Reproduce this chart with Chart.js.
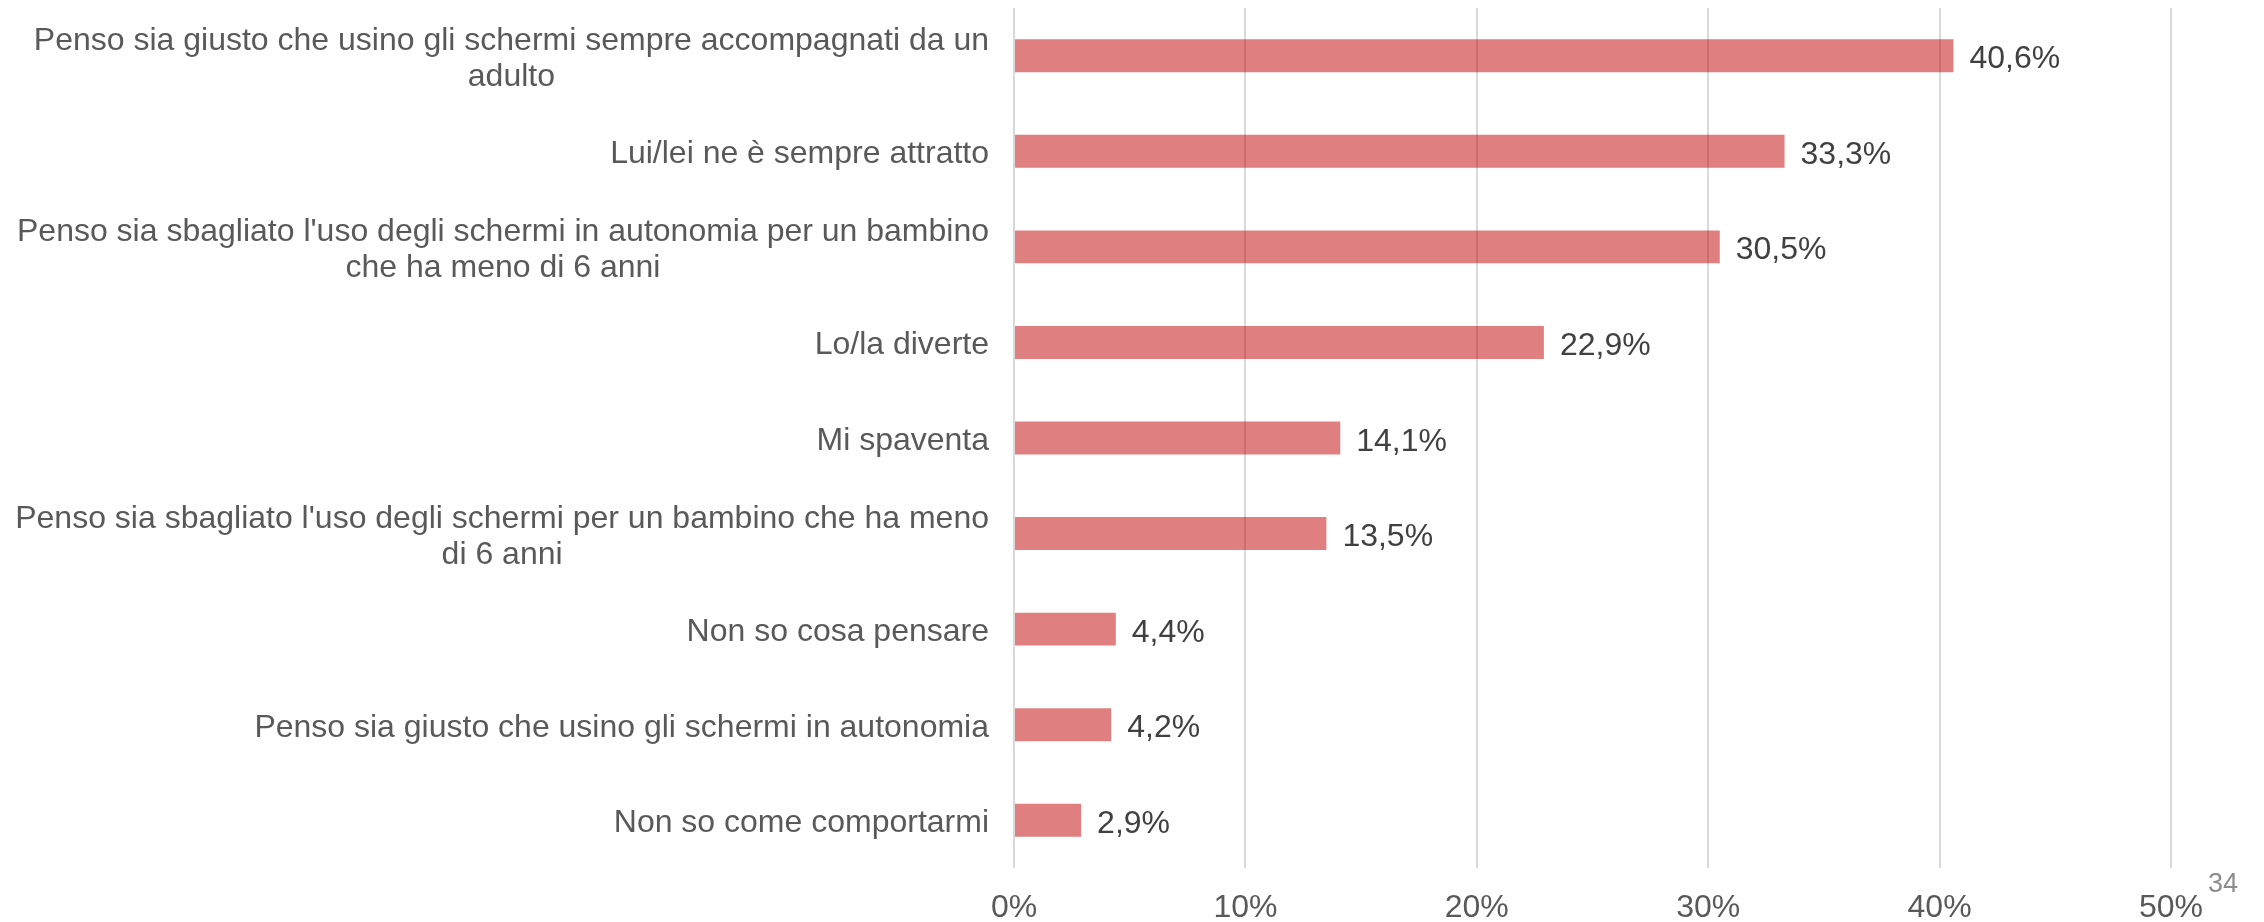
<!DOCTYPE html>
<html>
<head>
<meta charset="utf-8">
<script src="https://cdn.jsdelivr.net/npm/chart.js@4/dist/chart.umd.min.js"></script>
<style>
  html, body { margin: 0; padding: 0; background: #ffffff; }
  #wrap { position: relative; width: 2264px; height: 922px; }
  #pageNum { position: absolute; left: 2208px; top: 868px; font-family: "Liberation Sans", Arial, sans-serif; font-size: 27px; color: #8c8c8c; }
</style>
</head>
<body>
<div id="wrap">
  <canvas id="c" width="2264" height="922"></canvas>
  <div id="pageNum">34</div>
</div>
<script>
const categories = [
  ["Penso sia giusto che usino gli schermi sempre accompagnati da un", "adulto"],
  ["Lui/lei ne è sempre attratto"],
  ["Penso sia sbagliato l'uso degli schermi in autonomia per un bambino", "che ha meno di 6 anni"],
  ["Lo/la diverte"],
  ["Mi spaventa"],
  ["Penso sia sbagliato l'uso degli schermi per un bambino che ha meno", "di 6 anni"],
  ["Non so cosa pensare"],
  ["Penso sia giusto che usino gli schermi in autonomia"],
  ["Non so come comportarmi"]
];
const values = [40.6, 33.3, 30.5, 22.9, 14.1, 13.5, 4.4, 4.2, 2.9];
const xTicks = [0, 10, 20, 30, 40, 50];

const FONT = '"Liberation Sans", Arial, sans-serif';
const LABEL_SIZE = 32;

const categoryLabels = {
  id: 'categoryLabels',
  afterDraw(chart) {
    const ctx = chart.ctx;
    const y = chart.scales.y;
    const area = chart.chartArea;
    ctx.save();
    ctx.font = LABEL_SIZE + 'px ' + FONT;
    ctx.fillStyle = '#595959';
    ctx.textAlign = 'center';
    ctx.textBaseline = 'alphabetic';
    const lineH = 36;
    const right = area.left - 25;
    categories.forEach((lines, i) => {
      const cy = y.getPixelForTick(i);
      let maxW = 0;
      lines.forEach(l => { maxW = Math.max(maxW, ctx.measureText(l).width); });
      const cx = right - maxW / 2;
      const firstBase = cy + 12 - (lines.length - 1) * lineH / 2;
      lines.forEach((l, k) => ctx.fillText(l, cx, firstBase + k * lineH));
    });
    ctx.restore();
  }
};

const valueLabels = {
  id: 'valueLabels',
  afterDatasetsDraw(chart) {
    const ctx = chart.ctx;
    const meta = chart.getDatasetMeta(0);
    ctx.save();
    ctx.font = LABEL_SIZE + 'px ' + FONT;
    ctx.fillStyle = '#404040';
    ctx.textAlign = 'left';
    ctx.textBaseline = 'alphabetic';
    meta.data.forEach((bar, i) => {
      const txt = values[i].toFixed(1).replace('.', ',') + '%';
      ctx.fillText(txt, bar.x + 16, bar.y + 12.5);
    });
    ctx.restore();
  }
};

new Chart(document.getElementById('c'), {
  type: 'bar',
  data: {
    labels: categories.map(c => c.join(' ')),
    datasets: [{
      data: values,
      backgroundColor: 'rgba(192,0,0,0.5)',
      borderWidth: 0,
      categoryPercentage: 1,
      barPercentage: 0.345
    }]
  },
  options: {
    indexAxis: 'y',
    responsive: false,
    animation: false,
    events: [],
    layout: { padding: { left: 1014, right: 93, top: 8, bottom: 0 } },
    plugins: { legend: { display: false }, tooltip: { enabled: false } },
    scales: {
      x: {
        min: 0, max: 50,
        afterBuildTicks(axis) { axis.ticks = xTicks.map(v => ({ value: v })); },
        afterFit(axis) { axis.height = 54; },
        grid: { color: '#d9d9d9', lineWidth: 2, drawTicks: false },
        border: { display: false },
        ticks: {
          padding: 26,
          color: '#595959',
          font: { family: FONT, size: 32, lineHeight: 0.875 },
          callback: v => v + '%'
        }
      },
      y: {
        display: false
      }
    }
  },
  plugins: [categoryLabels, valueLabels]
});
</script>
</body>
</html>
